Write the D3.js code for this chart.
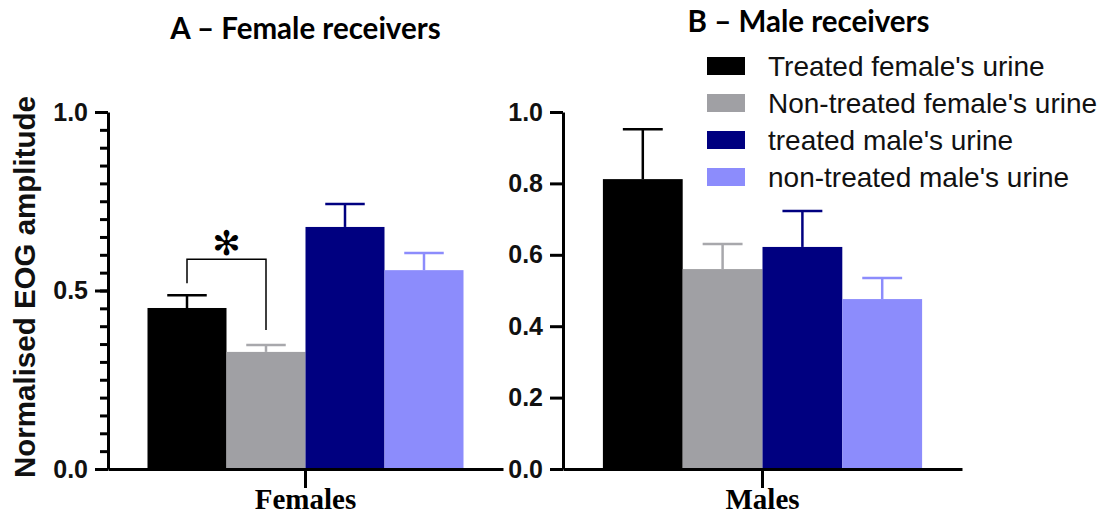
<!DOCTYPE html>
<html>
<head>
<meta charset="utf-8">
<script src="https://cdn.jsdelivr.net/npm/d3@7"></script>
<style>
  body { margin: 0; background: #fff; }
  svg { display: block; }
</style>
</head>
<body>
<div id="grafica"></div>
<script>
// datos
var series = ["Treated female's urine", "Non-treated female's urine", "treated male's urine", "non-treated male's urine"];
var colores = ["#000000", "#a0a0a4", "#000080", "#8c8cfc"];
var coloresError = ["#000000", "#a8a8ac", "#000080", "#8c8cfc"];

var hembrasMedia = [0.451, 0.328, 0.678, 0.557];
var hembrasError = [0.036, 0.019, 0.064, 0.048];
var machosMedia = [0.812, 0.560, 0.622, 0.476];
var machosError = [0.140, 0.070, 0.101, 0.059];

var ticksA = [0, 0.5, 1.0];
var ticksB = [0, 0.2, 0.4, 0.6, 0.8, 1.0];

var ancho = 1108, alto = 514;

var svg = d3.select("#grafica")
  .append("svg")
  .attr("width", ancho)
  .attr("height", alto);

// escala vertical comun
var escalaY = d3.scaleLinear().domain([0, 1]).range([469, 112]);

panel({
  grupo: "Females", media: hembrasMedia, error: hembrasError,
  x0: 108, x1: 503, ticks: ticksA, menores: true,
  titulo: "A \u2013 Female receivers", tituloY: 39
});
panel({
  grupo: "Males", media: machosMedia, error: machosError,
  x0: 563, x1: 962, ticks: ticksB, menores: false,
  titulo: "B \u2013 Male receivers", tituloY: 32
});

function panel(o) {
  var g = svg.append("g");
  var escalaX = d3.scaleBand().domain([o.grupo]).range([o.x0, o.x1]);
  var escalaS = d3.scaleBand().domain(series)
    .range([0, escalaX.bandwidth()])
    .paddingInner(0).paddingOuter(0.5);

  var datos = series.map(function (s, i) {
    return { s: s, v: o.media[i], e: o.error[i], c: colores[i], ce: coloresError[i] };
  });

  // barras
  var barras = g.append("g").attr("transform", "translate(" + escalaX(o.grupo) + ",0)");
  barras.selectAll(".barra")
    .data(datos).enter().append("rect")
    .attr("x", d => escalaS(d.s))
    .attr("y", d => escalaY(d.v))
    .attr("width", escalaS.bandwidth())
    .attr("height", d => escalaY(0) - escalaY(d.v))
    .style("fill", d => d.c);

  // barras de error
  var bw = escalaS.bandwidth();
  var err = barras.selectAll(".err").data(datos).enter().append("g")
    .style("stroke", d => d.ce).style("stroke-width", 2.5);
  err.append("line")
    .attr("x1", d => escalaS(d.s) + bw / 2).attr("x2", d => escalaS(d.s) + bw / 2)
    .attr("y1", d => escalaY(d.v)).attr("y2", d => escalaY(d.v + d.e));
  err.append("line")
    .attr("x1", d => escalaS(d.s) + bw / 4).attr("x2", d => escalaS(d.s) + bw * 3 / 4)
    .attr("y1", d => escalaY(d.v + d.e)).attr("y2", d => escalaY(d.v + d.e));

  // significancia en hembras
  if (o.menores) {
    var a = datos[0], b = datos[1];
    var xa = escalaX(o.grupo) + escalaS(a.s) + bw / 2;
    var xb = escalaX(o.grupo) + escalaS(b.s) + bw / 2;
    var yTop = escalaY(a.v + a.e) - 36;
    g.append("path")
      .attr("d", "M" + xa + "," + (escalaY(a.v + a.e) - 12) + "V" + yTop + "H" + xb + "V" + (escalaY(b.v + b.e) - 15))
      .style("fill", "none").style("stroke", "#000").style("stroke-width", 1.5);
    g.append("text")
      .attr("x", (xa + xb) / 2).attr("y", yTop - 4)
      .attr("text-anchor", "middle")
      .style("font-family", "DejaVu Sans").style("font-weight", "bold").style("font-size", "34px")
      .text("\u273B");
  }

  // eje Y
  if (o.menores) {
    g.append("g")
      .attr("transform", "translate(" + o.x0 + ",0)")
      .call(d3.axisLeft(escalaY).tickValues(d3.range(0, 1.0001, 0.05)).tickSize(8).tickFormat(""))
      .call(s => s.select(".domain").remove())
      .selectAll("line").style("stroke-width", 3);
  }
  var ejeY = g.append("g")
    .attr("transform", "translate(" + o.x0 + ",0)")
    .call(d3.axisLeft(escalaY).tickValues(o.ticks).tickSize(13).tickSizeOuter(0).tickPadding(7).tickFormat(d3.format(".1f")));
  ejeY.selectAll("line, path").style("stroke-width", 3);
  ejeY.selectAll("text")
    .style("font-family", "Liberation Sans, Arial").style("font-weight", "bold").style("font-size", "25px")
    .style("fill", "#111");

  // eje X
  var ejeX = g.append("g")
    .attr("transform", "translate(0," + escalaY(0) + ")")
    .call(d3.axisBottom(escalaX).tickSize(19).tickSizeOuter(0).tickPadding(0));
  ejeX.selectAll("line, path").style("stroke-width", 3);
  ejeX.selectAll("text")
    .style("font-family", "Liberation Serif, Times New Roman").style("font-weight", "bold").style("font-size", "29px")
    .style("fill", "#000");

  // titulo
  g.append("text")
    .attr("x", escalaX(o.grupo) + escalaX.bandwidth() / 2 + (o.menores ? 0 : 46))
    .attr("y", o.tituloY)
    .attr("text-anchor", "middle")
    .style("font-family", "Lato").style("font-weight", "bold").style("font-size", "29.5px")
    .text(o.titulo);
}

// titulo del eje Y
svg.append("text")
  .attr("transform", "translate(35,287) rotate(-90)")
  .attr("text-anchor", "middle")
  .style("font-family", "Liberation Sans, Arial").style("font-weight", "bold").style("font-size", "29.5px")
  .style("fill", "#111")
  .text("Normalised EOG amplitude");

// leyenda
var leyenda = svg.append("g").attr("transform", "translate(707,66)");
var filas = leyenda.selectAll(".fila").data(series).enter().append("g")
  .attr("transform", (d, i) => "translate(0," + i * 37 + ")");
filas.append("rect")
  .attr("x", 0).attr("y", -9).attr("width", 38).attr("height", 18)
  .style("fill", (d, i) => colores[i]);
filas.append("text")
  .attr("x", 61).attr("y", 0).attr("dy", "0.35em")
  .style("font-family", "Liberation Sans, Arial").style("font-size", "28px")
  .style("fill", "#111")
  .text(d => d);
</script>
</body>
</html>
